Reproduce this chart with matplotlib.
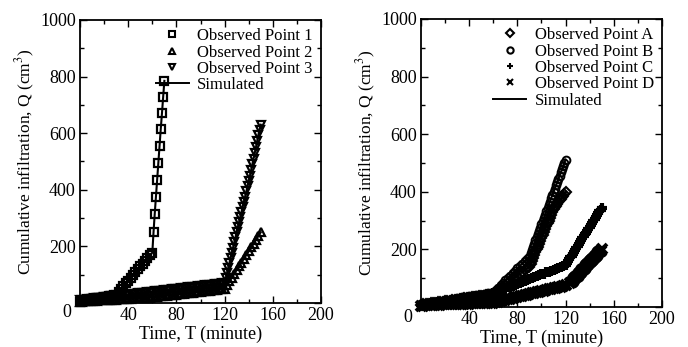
import matplotlib
matplotlib.use('Agg')
import matplotlib.pyplot as plt
from matplotlib.lines import Line2D
from matplotlib.ticker import MultipleLocator

plt.rcParams['font.family'] = ['Liberation Serif', 'DejaVu Serif']
plt.rcParams['mathtext.fontset'] = 'stix'

# ---- left panel: observed points 1-3 (time in minutes, Q in cm3) ----
t1 = list(range(0, 60, 2)) + list(range(60, 71))
q1 = [5, 7, 8, 10, 11, 13, 14, 16, 18, 19, 21, 22, 24, 25, 27,
      30, 40, 50, 60, 70, 79, 89, 99, 109, 119, 129, 138, 148, 158, 168,
      178, 250, 315, 375, 435, 495, 555, 615, 670, 728, 785]

t2 = list(range(0, 151, 2))
q2 = [5, 5, 6, 6, 7, 7, 8, 8, 9, 9, 10, 10, 11, 11, 12, 12, 13, 13, 14, 14,
      15, 15, 16, 16, 17, 17, 18, 18, 19, 19,
      20, 21, 22, 23, 24, 25, 26, 27, 28, 29, 30, 31, 32, 33, 34, 35, 36, 37,
      38, 39, 40, 41, 42, 43, 44, 45, 46, 47, 48, 49, 50,
      63, 77, 90, 103, 117, 130, 143, 157, 170, 183, 197, 210, 223, 237, 250]

t3 = list(range(0, 120, 2)) + list(range(120, 151))
q3 = [10, 11, 12, 13, 14, 15, 16, 17, 18, 19, 20, 21, 22, 23, 24, 25, 26, 27,
      28, 29, 30, 31, 32, 33, 34, 35, 36, 37, 38, 39, 40, 41, 42, 43, 44, 45,
      46, 47, 48, 49, 50, 51, 52, 53, 54, 55, 56, 57, 58, 59, 60, 61, 62, 63,
      64, 65, 66, 67, 68, 69,
      70, 88, 106, 124, 142, 160, 178, 196, 214, 232, 250, 268, 286, 304, 322,
      340, 358, 376, 394, 412, 430, 450, 470, 490, 510, 530, 550, 572, 594,
      612, 630]

# ---- right panel: observed points A-D ----
tA = list(range(0, 90, 2)) + list(range(90, 121))
qA = [8, 9, 10, 12, 13, 14, 15, 16, 18, 19, 20, 21, 22, 24, 25, 26, 27, 28,
      30, 31, 32, 33, 34, 36, 37, 38, 39, 40, 42, 43,
      45, 51, 58, 64, 70, 77, 83, 89, 96, 102, 108, 115, 121, 127, 134,
      140, 150, 160, 170, 180, 190, 200, 210, 220, 230, 240, 250, 260, 270,
      280, 290, 300, 310, 320, 330, 340,
      346, 352, 358, 364, 370, 375, 381, 387, 393, 398]

tB = list(range(0, 90, 2)) + list(range(90, 121))
qB = [10, 11, 13, 14, 15, 17, 18, 19, 21, 22, 23, 25, 26, 27, 29, 30, 31, 33,
      34, 35, 37, 38, 39, 41, 42, 43, 45, 46, 47, 49,
      50, 58, 67, 75, 84, 92, 100, 109, 117, 126, 134, 142, 151, 159, 167,
      175, 186, 198, 209, 220, 231, 243, 254, 265, 276, 288, 299, 310, 321,
      333, 344, 355, 366, 377, 389, 400, 411, 422, 434, 445, 456, 467, 478,
      490, 501, 512]

tC = list(range(0, 120, 2)) + list(range(120, 151))
qC = [8, 9, 10, 12, 13, 14, 15, 16, 18, 19, 20, 21, 22, 24, 25, 26, 27, 28,
      30, 31, 32, 33, 34, 36, 37, 38, 39, 40, 42, 43,
      48, 51, 55, 58, 61, 64, 68, 71, 74, 77, 81, 84, 87, 90, 94, 97, 100,
      103, 107, 110, 113, 116, 120, 123, 126, 129, 133, 136, 139, 142,
      145, 152, 158, 165, 172, 178, 185, 192, 198, 205, 212, 218, 225, 232,
      238, 245, 252, 258, 265, 272, 278, 285, 292, 298, 305, 312, 318, 325,
      332, 338, 345]

tD = list(range(0, 121, 2)) + list(range(124, 151))
qD = [5, 5, 6, 6, 7, 7, 8, 8, 8, 9, 9, 9, 10, 10, 10, 11, 11, 11, 12, 12,
      12, 13, 13, 13, 13, 14, 14, 14, 14, 15,
      15, 17, 19, 21, 23, 25, 27, 29, 31, 33, 35, 37, 39, 41, 43, 45, 47, 49,
      51, 53, 55, 57, 59, 61, 63, 65, 67, 69, 71, 73, 75,
      82, 87, 91, 96, 100, 105, 109, 114, 118, 123, 127, 132, 136, 141, 145,
      150, 155, 159, 164, 168, 173, 177, 182, 186, 191, 195, 200]

left_series = [(t1, q1, 's', 'Observed Point 1'),
               (t2, q2, '^', 'Observed Point 2'),
               (t3, q3, 'v', 'Observed Point 3')]
right_series = [(tA, qA, 'D', 'Observed Point A'),
                (tB, qB, 'o', 'Observed Point B'),
                (tC, qC, '+', 'Observed Point C'),
                (tD, qD, 'x', 'Observed Point D')]

# marker size / edge width per marker type
msize = {'s': 5.6, '^': 6.2, 'v': 6.2, 'D': 5.0, 'o': 5.6, '+': 7.5, 'x': 6.5}
mwidth = {'s': 1.6, '^': 1.6, 'v': 1.6, 'D': 1.5, 'o': 1.4, '+': 3.0, 'x': 2.8}

fig = plt.figure(figsize=(6.88, 3.47), dpi=100)
ax1 = fig.add_axes([0.1163, 0.1268, 0.3503, 0.8156])
ax2 = fig.add_axes([0.6119, 0.1153, 0.3503, 0.8300])

for ax, series in [(ax1, left_series), (ax2, right_series)]:
    handles = []
    for t, q, m, lab in series:
        ax.plot(t, q, color='k', lw=1.5, marker=m, ms=msize[m], mfc='none',
                mec='k', mew=mwidth[m], clip_on=False)
        handles.append(Line2D([], [], ls='none', marker=m, ms=4.5, mfc='none',
                              mec='k', mew=1.5, label=lab))
    handles.append(Line2D([], [], color='k', lw=1.4, label='Simulated'))
    ax.legend(handles=handles, loc='upper right', frameon=False, fontsize=12,
              handlelength=2.0, handletextpad=0.5, labelspacing=0.02,
              borderpad=0.3, borderaxespad=0.2)

    ax.set_xlim(0, 200)
    ax.set_ylim(0, 1000)
    ax.xaxis.set_minor_locator(MultipleLocator(20))
    ax.yaxis.set_minor_locator(MultipleLocator(100))
    ax.set_xticks(range(0, 201, 40), [''] + [str(v) for v in range(40, 201, 40)])
    ax.set_yticks(range(0, 1001, 200), [''] + [str(v) for v in range(200, 1001, 200)])
    ax.tick_params(which='both', direction='in', top=True, right=True,
                   labelsize=13, width=1.0, pad=3)
    ax.tick_params(which='major', length=5)
    ax.tick_params(which='minor', length=3)
    for s in ax.spines.values():
        s.set_linewidth(1.3)
    ax.text(-0.035, -0.035, '0', transform=ax.transAxes, ha='right',
            va='center', fontsize=13)
    ax.set_xlabel('Time, T (minute)', fontsize=13, labelpad=1)
    ax.set_ylabel('Cumulative infiltration, Q (cm$^3$)', fontsize=12.5,
                  labelpad=2)

fig.savefig('out.png', dpi=100)
